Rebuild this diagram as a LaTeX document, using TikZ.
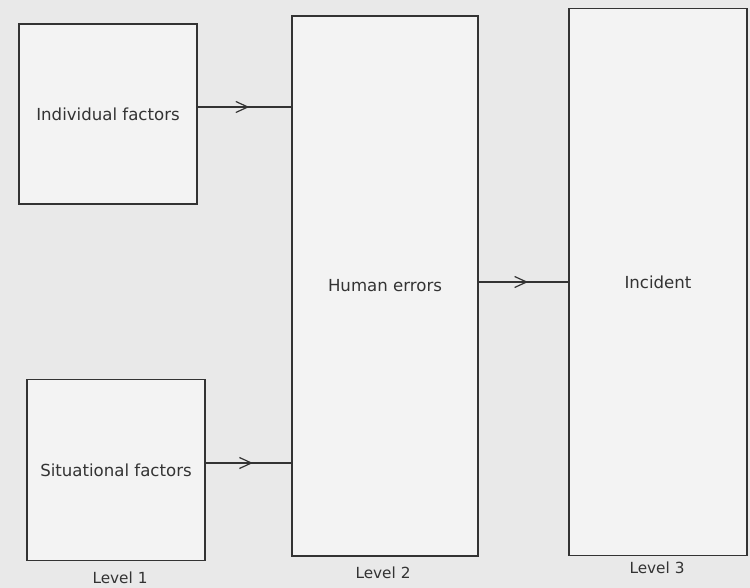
\documentclass[tikz,border=0pt]{standalone}
\usepackage{fontspec}
\setmainfont{DejaVu Sans}
\usetikzlibrary{arrows.meta,decorations.markings}
\definecolor{paper}{HTML}{E9E9E9}
\definecolor{boxfill}{HTML}{F3F3F3}
\definecolor{ink}{HTML}{333333}
\tikzset{
  stage/.style={draw=ink, fill=boxfill, line width=1.4pt, inner sep=0pt, outer sep=0pt,
    text=ink, font=\fontsize{16.6}{20}\selectfont, align=center},
  lvl/.style={text=ink, font=\fontsize{15.3}{18}\selectfont},
  flow/.style={draw=ink, line width=1.6pt,
    postaction={decorate, decoration={markings,
      mark=at position 0.55 with {\arrow{Straight Barb[length=12pt,width=11pt,line width=1.2pt]}}}}}
}
\begin{document}
\begin{tikzpicture}[x=1pt,y=-1pt]
  \fill[paper] (0,0) rectangle (750,588);
  \useasboundingbox (0,0) rectangle (750,588);

  \node[stage, minimum width=178pt, minimum height=180pt] (ind) at (108,114) {Individual factors};
  \node[stage, minimum width=178pt, minimum height=181pt] (sit) at (116,470) {Situational factors};
  \node[stage, minimum width=186pt, minimum height=540pt] (he) at (385,286) {Human errors};
  \node[stage, minimum width=178pt, minimum height=547pt] (inc) at (658,282) {Incident};

  \draw[flow] ([yshift=7pt]ind.east) -- ([yshift=7pt]ind.east -| he.west);
  \draw[flow] ([yshift=7pt]sit.east) -- ([yshift=7pt]sit.east -| he.west);
  \draw[flow] ([yshift=4pt]he.east) -- ([yshift=4pt]he.east -| inc.west);

  \node[lvl] (l1) at (120,578) {Level 1};
  \node[lvl] (l2) at (383,573) {Level 2};
  \node[lvl] (l3) at (657,568) {Level 3};
\end{tikzpicture}
\end{document}
